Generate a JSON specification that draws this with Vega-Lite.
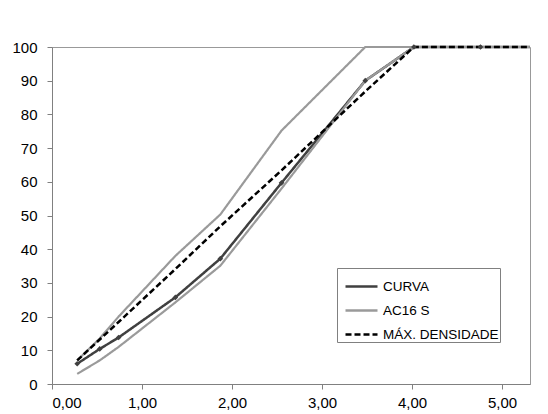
{
  "$schema": "https://vega.github.io/schema/vega-lite/v6.json",
  "width": 478,
  "height": 337,
  "autosize": {"type": "none"},
  "padding": {"left": 52, "top": 47, "right": 18, "bottom": 30},
  "background": "white",
  "config": {
    "view": {"stroke": "#999999", "strokeWidth": 1},
    "axis": {
      "domainColor": "#808080",
      "tickColor": "#808080",
      "tickSize": 5,
      "grid": false,
      "labelColor": "#000000",
      "labelFont": "Liberation Sans",
      "labelFontSize": 15,
      "title": null
    },
    "legend": {
      "orient": "none",
      "legendX": 285,
      "legendY": 221,
      "title": null,
      "symbolType": "stroke",
      "symbolSize": 1024,
      "symbolStrokeWidth": 2.5,
      "labelFont": "Liberation Sans",
      "labelFontSize": 13.5,
      "labelColor": "#000000",
      "padding": 1,
      "rowPadding": 0,
      "symbolOffset": 6,
      "labelOffset": 4,
      "strokeColor": "#808080",
      "fillColor": "white"
    }
  },
  "data": {
    "values": [
      {"series": "CURVA", "line": "c", "x": 0.28, "y": 6},
      {"series": "CURVA", "line": "c", "x": 0.53, "y": 10.4},
      {"series": "CURVA", "line": "c", "x": 0.74, "y": 13.8},
      {"series": "CURVA", "line": "c", "x": 1.37, "y": 25.7},
      {"series": "CURVA", "line": "c", "x": 1.87, "y": 37.2},
      {"series": "CURVA", "line": "c", "x": 2.55, "y": 59.7},
      {"series": "CURVA", "line": "c", "x": 3.48, "y": 90},
      {"series": "CURVA", "line": "c", "x": 4.02, "y": 100},
      {"series": "CURVA", "line": "c", "x": 4.76, "y": 100},
      {"series": "CURVA", "line": "c", "x": 5.31, "y": 100},
      {"series": "AC16 S", "line": "up", "x": 0.28, "y": 7},
      {"series": "AC16 S", "line": "up", "x": 0.53, "y": 13.5},
      {"series": "AC16 S", "line": "up", "x": 0.74, "y": 20},
      {"series": "AC16 S", "line": "up", "x": 1.37, "y": 38},
      {"series": "AC16 S", "line": "up", "x": 1.87, "y": 50.3},
      {"series": "AC16 S", "line": "up", "x": 2.55, "y": 75.2},
      {"series": "AC16 S", "line": "up", "x": 3.48, "y": 100},
      {"series": "AC16 S", "line": "up", "x": 4.02, "y": 100},
      {"series": "AC16 S", "line": "up", "x": 4.76, "y": 100},
      {"series": "AC16 S", "line": "up", "x": 5.31, "y": 100},
      {"series": "AC16 S", "line": "low", "x": 0.28, "y": 3},
      {"series": "AC16 S", "line": "low", "x": 0.53, "y": 7},
      {"series": "AC16 S", "line": "low", "x": 0.74, "y": 11},
      {"series": "AC16 S", "line": "low", "x": 1.37, "y": 24.2},
      {"series": "AC16 S", "line": "low", "x": 1.87, "y": 35.1},
      {"series": "AC16 S", "line": "low", "x": 2.55, "y": 58},
      {"series": "AC16 S", "line": "low", "x": 3.48, "y": 90},
      {"series": "AC16 S", "line": "low", "x": 4.02, "y": 100},
      {"series": "AC16 S", "line": "low", "x": 4.76, "y": 100},
      {"series": "AC16 S", "line": "low", "x": 5.31, "y": 100},
      {"series": "MÁX. DENSIDADE", "line": "m", "x": 0.28, "y": 7},
      {"series": "MÁX. DENSIDADE", "line": "m", "x": 0.53, "y": 13.2},
      {"series": "MÁX. DENSIDADE", "line": "m", "x": 0.74, "y": 18.4},
      {"series": "MÁX. DENSIDADE", "line": "m", "x": 1.37, "y": 34.1},
      {"series": "MÁX. DENSIDADE", "line": "m", "x": 1.87, "y": 46.8},
      {"series": "MÁX. DENSIDADE", "line": "m", "x": 2.55, "y": 63.4},
      {"series": "MÁX. DENSIDADE", "line": "m", "x": 3.48, "y": 86.8},
      {"series": "MÁX. DENSIDADE", "line": "m", "x": 4.02, "y": 100},
      {"series": "MÁX. DENSIDADE", "line": "m", "x": 4.76, "y": 100},
      {"series": "MÁX. DENSIDADE", "line": "m", "x": 5.31, "y": 100}
    ]
  },
  "encoding": {
    "x": {
      "field": "x",
      "type": "quantitative",
      "scale": {"domain": [0, 5.31], "nice": false, "zero": false},
      "axis": {
        "values": [0, 1, 2, 3, 4, 5],
        "labelExpr": "replace(format(datum.value, '.2f'), '.', ',')",
        "labelPadding": 6
      }
    },
    "y": {
      "field": "y",
      "type": "quantitative",
      "scale": {"domain": [0, 100], "nice": false},
      "axis": {
        "values": [0, 10, 20, 30, 40, 50, 60, 70, 80, 90, 100],
        "labelPadding": 10
      }
    }
  },
  "layer": [
    {
      "transform": [{"filter": "datum.series === 'CURVA'"}],
      "mark": {"type": "line", "strokeWidth": 2.5},
      "encoding": {
        "detail": {"field": "line"},
        "color": {
          "field": "series",
          "type": "nominal",
          "scale": {"domain": ["CURVA", "AC16 S", "MÁX. DENSIDADE"], "range": ["#404040", "#9a9a9a", "#000000"]},
          "legend": {"title": null}
        },
        "strokeDash": {
          "field": "series",
          "type": "nominal",
          "scale": {"domain": ["CURVA", "AC16 S", "MÁX. DENSIDADE"], "range": [[1, 0], [1, 0], [6, 3]]},
          "legend": {"title": null}
        }
      }
    },
    {
      "transform": [{"filter": "datum.series === 'AC16 S'"}],
      "mark": {"type": "line", "strokeWidth": 2.2},
      "encoding": {
        "detail": {"field": "line"},
        "color": {"field": "series", "type": "nominal", "legend": {"title": null}},
        "strokeDash": {"field": "series", "type": "nominal", "legend": {"title": null}}
      }
    },
    {
      "transform": [{"filter": "datum.series === 'MÁX. DENSIDADE'"}],
      "mark": {"type": "line", "strokeWidth": 2.5},
      "encoding": {
        "detail": {"field": "line"},
        "color": {"field": "series", "type": "nominal", "legend": {"title": null}},
        "strokeDash": {"field": "series", "type": "nominal", "legend": {"title": null}}
      }
    },
    {
      "transform": [{"filter": "datum.series === 'CURVA' && datum.x < 5"}],
      "mark": {"type": "point", "shape": "diamond", "filled": true, "size": 32, "color": "#404040", "opacity": 1}
    }
  ]
}
